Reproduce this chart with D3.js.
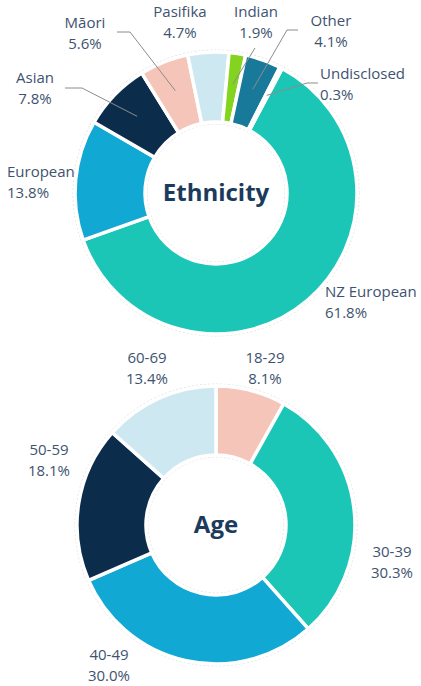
<!DOCTYPE html>
<html>
<head>
<meta charset="utf-8">
<script src="https://cdn.jsdelivr.net/npm/d3@7"></script>
<style>
  body { margin: 0; background: #fff; }
  svg text { font-family: "Open Sans", sans-serif; }
</style>
</head>
<body>
<div id="chart"></div>
<script>
// Ethnicity data (clockwise order in the ring)
const ethCategories = ["NZ European", "European", "Asian", "Māori", "Pasifika", "Indian", "Other", "Undisclosed"];
const ethValues = [61.8, 13.8, 7.8, 5.6, 4.7, 1.9, 4.1, 0.3];
const ethColors = ["#1cc6b6", "#12a8d4", "#0c2c4c", "#f6c5b9", "#cde8f0", "#84d41f", "#19799a", "#6fcfc4"];

// Age data
const ageCategories = ["18-29", "30-39", "40-49", "50-59", "60-69"];
const ageValues = [8.1, 30.3, 30.0, 18.1, 13.4];
const ageColors = ["#f6c5b9", "#1cc6b6", "#12a8d4", "#0c2c4c", "#cde8f0"];

const width = 421, height = 686;
const labelColor = "#3e5370";

const svg = d3.select("#chart")
    .append("svg")
    .attr("width", width)
    .attr("height", height);

// label placement: [x, y of first line, anchor, leader elbow (optional)]
const ethLabelPos = {
    "NZ European": { x: 325, y: 297, anchor: "start" },
    "European": { x: 7, y: 177, anchor: "start" },
    "Asian": { x: 35, y: 83, anchor: "middle", elbow: [[65, 88], [82, 88]] },
    "Māori": { x: 85, y: 28, anchor: "middle", elbow: [[117, 32], [130, 32]] },
    "Pasifika": { x: 180, y: 17, anchor: "middle" },
    "Indian": { x: 256, y: 17, anchor: "middle", elbow: [[255, 48]] },
    "Other": { x: 331, y: 26, anchor: "middle", elbow: [[298, 30], [287, 30]] },
    "Undisclosed": { x: 320, y: 79, anchor: "start", elbow: [[318, 83], [307, 83]] }
};
const ageLabelPos = {
    "18-29": { x: 265, y: 363, anchor: "middle" },
    "30-39": { x: 392, y: 557, anchor: "middle" },
    "40-49": { x: 109, y: 660, anchor: "middle" },
    "50-59": { x: 49, y: 455, anchor: "middle" },
    "60-69": { x: 147, y: 363, anchor: "middle" }
};

function donut(cx, cy, rOuter, rInner, cats, vals, colors, startDeg, title, labelPos) {
    const g = svg.append("g").attr("transform", `translate(${cx},${cy})`);
    const data = cats.map((c, i) => ({ cat: c, value: vals[i], color: colors[i] }));

    const start = startDeg * Math.PI / 180;
    const pie = d3.pie().sort(null).value(d => d.value)
        .startAngle(start).endAngle(start + 2 * Math.PI);
    const arc = d3.arc().innerRadius(rInner).outerRadius(rOuter);
    const arcs = pie(data);

    // faint dashed guide circles
    [rOuter + 2, rInner - 2].forEach(r => {
        g.append("circle").attr("r", r)
            .attr("fill", "none").attr("stroke", "#d9d9d9")
            .attr("stroke-width", 0.8).attr("stroke-dasharray", "2,2");
    });

    g.selectAll(".slice")
        .data(arcs)
        .enter().append("path")
        .attr("class", "slice")
        .attr("d", arc)
        .attr("fill", d => d.data.color)
        .attr("stroke", "#fff")
        .attr("stroke-width", 3.5);

    // leader lines
    arcs.forEach(a => {
        const p = labelPos[a.data.cat];
        if (!p.elbow) return;
        const mid = (a.startAngle + a.endAngle) / 2;
        const r = (rInner + rOuter) / 2 + 4;
        const end = [cx + r * Math.sin(mid), cy - r * Math.cos(mid)];
        const pts = p.elbow.concat([end]);
        svg.append("path")
            .attr("d", d3.line()(pts))
            .attr("fill", "none")
            .attr("stroke", "#8c8c8c")
            .attr("stroke-width", 1);
    });

    // labels
    arcs.forEach(a => {
        const p = labelPos[a.data.cat];
        const t = svg.append("text")
            .attr("x", p.x).attr("y", p.y)
            .attr("text-anchor", p.anchor)
            .style("font-size", "15px")
            .style("fill", labelColor);
        t.append("tspan").attr("x", p.x).text(a.data.cat);
        t.append("tspan").attr("x", p.x).attr("dy", 21).text(a.data.value.toFixed(1) + "%");
    });

    // centre title
    g.append("text")
        .attr("text-anchor", "middle")
        .attr("dy", "0.35em")
        .style("font-size", "24px")
        .style("font-weight", "bold")
        .style("fill", "#1b3a5c")
        .text(title);
}

donut(216, 193, 141, 71, ethCategories, ethValues, ethColors, 28, "Ethnicity", ethLabelPos);
donut(216, 525, 139, 70, ageCategories, ageValues, ageColors, 0, "Age", ageLabelPos);
</script>
</body>
</html>
